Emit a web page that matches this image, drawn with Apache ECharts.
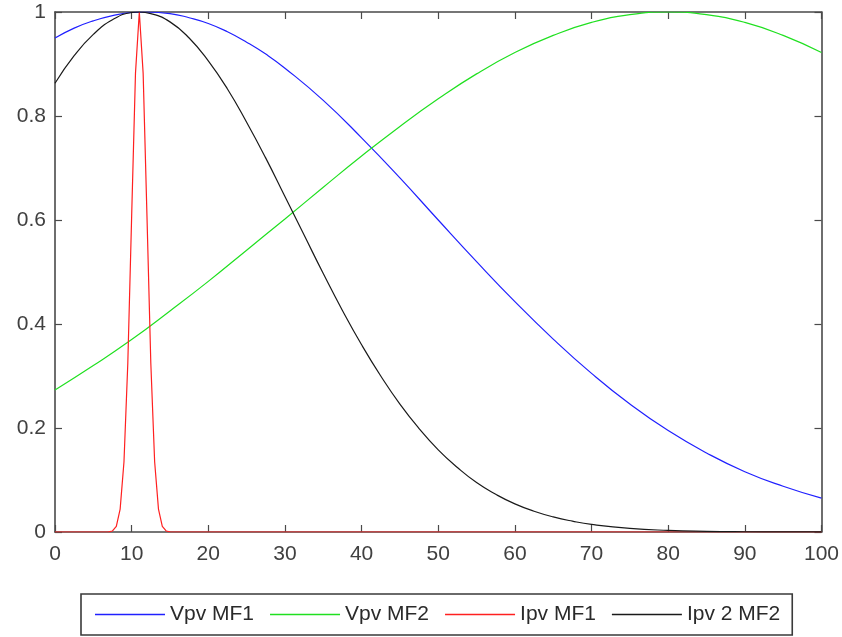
<!DOCTYPE html>
<html>
<head>
<meta charset="utf-8">
<script src="https://cdn.jsdelivr.net/npm/echarts@6/dist/echarts.min.js"></script>
<style>html,body{margin:0;padding:0;background:#fff;}#c{width:842px;height:637px;}</style>
</head>
<body>
<div id="c"></div>
<script>
const xBlue = [0, 2.5, 5, 7.5, 10, 12, 15, 17.5, 20, 22.5, 25, 27.5, 30, 35, 40, 45, 50, 55, 60, 65, 70, 75, 80, 85, 90, 95, 100];
const vpvMF1 = [0.950, 0.969, 0.983, 0.993, 0.999, 1.000, 0.997, 0.989, 0.978, 0.962, 0.942, 0.919, 0.892, 0.830, 0.758, 0.681, 0.600, 0.520, 0.443, 0.371, 0.305, 0.246, 0.195, 0.152, 0.116, 0.088, 0.065];
const xGreen = [0, 5, 10, 15, 20, 25, 30, 35, 40, 45, 50, 55, 60, 65, 70, 75, 80, 85, 90, 95, 100];
const vpvMF2 = [0.273, 0.320, 0.370, 0.425, 0.482, 0.542, 0.602, 0.663, 0.723, 0.780, 0.833, 0.881, 0.922, 0.955, 0.980, 0.995, 1.000, 0.995, 0.980, 0.955, 0.922];
const xBlack = [0, 2.5, 5, 7.5, 10, 11, 12.5, 15, 17.5, 20, 22.5, 25, 27.5, 30, 32.5, 35, 37.5, 40, 42.5, 45, 47.5, 50, 52.5, 55, 57.5, 60, 62.5, 65, 67.5, 70, 75, 80, 85, 90, 95, 100];
const ipv2MF2 = [0.863, 0.916, 0.957, 0.985, 0.999, 1.000, 0.997, 0.981, 0.950, 0.906, 0.852, 0.788, 0.719, 0.645, 0.571, 0.497, 0.426, 0.360, 0.300, 0.246, 0.199, 0.158, 0.124, 0.095, 0.0725, 0.054, 0.040, 0.029, 0.0208, 0.0146, 0.0069, 0.0031, 0.0013, 0.0005, 0.0002, 0.0001];
const xRed = [0, 7, 7.5, 8, 8.5, 9, 9.5, 10, 10.5, 11, 11.5, 12, 12.5, 13, 13.5, 14, 14.5, 15, 100];
const ipvMF1 = [0, 0.0003, 0.002, 0.011, 0.044, 0.135, 0.325, 0.607, 0.882, 1.000, 0.882, 0.607, 0.325, 0.135, 0.044, 0.011, 0.002, 0.0003, 0];
const seriesNames = ['Vpv MF1', 'Vpv MF2', 'Ipv MF1', 'Ipv 2 MF2'];
const seriesColors = ['#2020ff', '#20e020', '#ff2020', '#1a1a1a'];
const xTicks = [0, 10, 20, 30, 40, 50, 60, 70, 80, 90, 100];
const yTicks = [0, 0.2, 0.4, 0.6, 0.8, 1];

const zip = (xs, ys) => xs.map((x, i) => [x, ys[i]]);
const chart = echarts.init(document.getElementById('c'));
const axisCol = '#4a4a4a';
const font = 'Liberation Sans, Arial, sans-serif';
const lbl = {color: '#404040', fontSize: 21, fontFamily: font};
const mk = (name, color, data, smooth) => ({
  name, type: 'line', data, smooth, symbol: 'none', showSymbol: false,
  lineStyle: {color, width: 1.2}, itemStyle: {color}, animation: false
});
const frameAxis = {
  axisLine: {show: true, onZero: false, lineStyle: {color: axisCol, width: 1.6}},
  axisTick: {show: true, inside: true, length: 7, lineStyle: {color: axisCol, width: 1.2}},
  splitLine: {show: false}
};
chart.setOption({
  backgroundColor: '#fff',
  animation: false,
  grid: {left: 55, right: 20, top: 12, bottom: 105, show: false},
  xAxis: [
    Object.assign({type: 'value', min: 0, max: 100, interval: 10, position: 'bottom',
     axisLabel: Object.assign({margin: 12, formatter: v => xTicks.includes(v) ? String(v) : ''}, lbl)}, frameAxis),
    Object.assign({type: 'value', min: 0, max: 100, interval: 10, position: 'top',
     axisLabel: {show: false}}, frameAxis)
  ],
  yAxis: [
    Object.assign({type: 'value', min: 0, max: 1, interval: 0.2, position: 'left',
     axisLabel: Object.assign({margin: 9, formatter: v => {
       const t = yTicks.find(k => Math.abs(k - v) < 1e-9);
       return t === undefined ? '' : String(Math.round(t * 10) / 10);
     }}, lbl)}, frameAxis),
    Object.assign({type: 'value', min: 0, max: 1, interval: 0.2, position: 'right',
     axisLabel: {show: false}}, frameAxis)
  ],
  legend: {
    left: 81, top: 594,
    data: seriesNames,
    orient: 'horizontal',
    icon: 'rect',
    itemWidth: 70, itemHeight: 1.5, itemGap: 16,
    padding: [10, 12, 10, 14],
    borderColor: '#3a3a3a', borderWidth: 1.6,
    textStyle: {color: '#2a2a2a', fontSize: 21, fontFamily: font}
  },
  series: [
    mk(seriesNames[0], seriesColors[0], zip(xBlue, vpvMF1), true),
    mk(seriesNames[1], seriesColors[1], zip(xGreen, vpvMF2), true),
    mk(seriesNames[2], seriesColors[2], zip(xRed, ipvMF1), false),
    mk(seriesNames[3], seriesColors[3], zip(xBlack, ipv2MF2), true)
  ]
});
</script>
</body>
</html>
